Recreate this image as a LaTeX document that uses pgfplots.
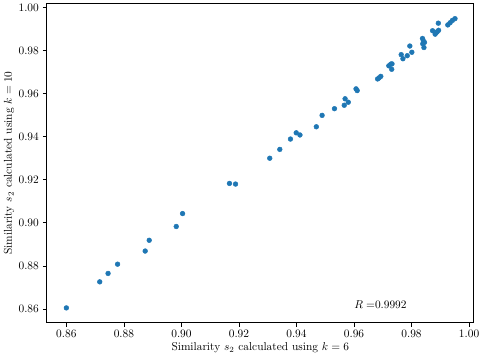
\documentclass[border=0pt]{standalone}
\usepackage{pgfplots}
\pgfplotsset{compat=1.18}
\definecolor{tabblue}{HTML}{1F77B4}

\begin{document}
\begin{tikzpicture}
\begin{axis}[
  scale only axis,
  width=375pt, height=280pt,
  xmin=0.8532, xmax=1.0016,
  ymin=0.8537, ymax=1.0017,
  xtick={0.86,0.88,...,1.001},
  ytick={0.86,0.88,...,1.001},
  xticklabel style={/pgf/number format/.cd, fixed, fixed zerofill, precision=2},
  yticklabel style={/pgf/number format/.cd, fixed, fixed zerofill, precision=2},
  scaled ticks=false,
  tick align=outside,
  xtick pos=bottom, ytick pos=left,
  major tick length=3.5pt,
  tick style={black, line width=0.7pt},
  axis line style={line width=0.7pt},
  xlabel={Similarity $s_2$ calculated using $k=6$},
  ylabel={Similarity $s_2$ calculated using $k=10$},
  xlabel style={yshift=3pt},
  ylabel style={yshift=-3pt},
]
\addplot[only marks, mark=*, mark size=2.1pt, color=tabblue] coordinates {
  (0.8600,0.8605) (0.8716,0.8726) (0.8745,0.8765) (0.8778,0.8808)
  (0.8874,0.8869) (0.8888,0.8919) (0.8982,0.8983) (0.9004,0.9043)
  (0.9167,0.9183) (0.9188,0.9180)
  (0.9307,0.9300) (0.9342,0.9341) (0.9379,0.9389) (0.9399,0.9418)
  (0.9412,0.9408) (0.9469,0.9446) (0.9489,0.9499) (0.9532,0.9530)
  (0.9566,0.9546) (0.9569,0.9576) (0.9580,0.9560) (0.9607,0.9622)
  (0.9611,0.9614) (0.9682,0.9668) (0.9687,0.9673) (0.9693,0.9680)
  (0.9721,0.9729) (0.9728,0.9737) (0.9731,0.9713) (0.9732,0.9738)
  (0.9764,0.9781) (0.9770,0.9762) (0.9785,0.9776) (0.9794,0.9821)
  (0.9801,0.9792) (0.9838,0.9856) (0.9841,0.9845) (0.9839,0.9831)
  (0.9845,0.9838) (0.9843,0.9814) (0.9873,0.9892) (0.9882,0.9876)
  (0.9886,0.9884) (0.9893,0.9927) (0.9894,0.9894) (0.9889,0.9887)
  (0.9926,0.9919) (0.9934,0.9929) (0.9942,0.9940) (0.9951,0.9948)
};
\node[anchor=base west, inner sep=0pt] at (axis cs:0.96,0.86) {$R=$0.9992};
\end{axis}
\end{tikzpicture}
\end{document}
